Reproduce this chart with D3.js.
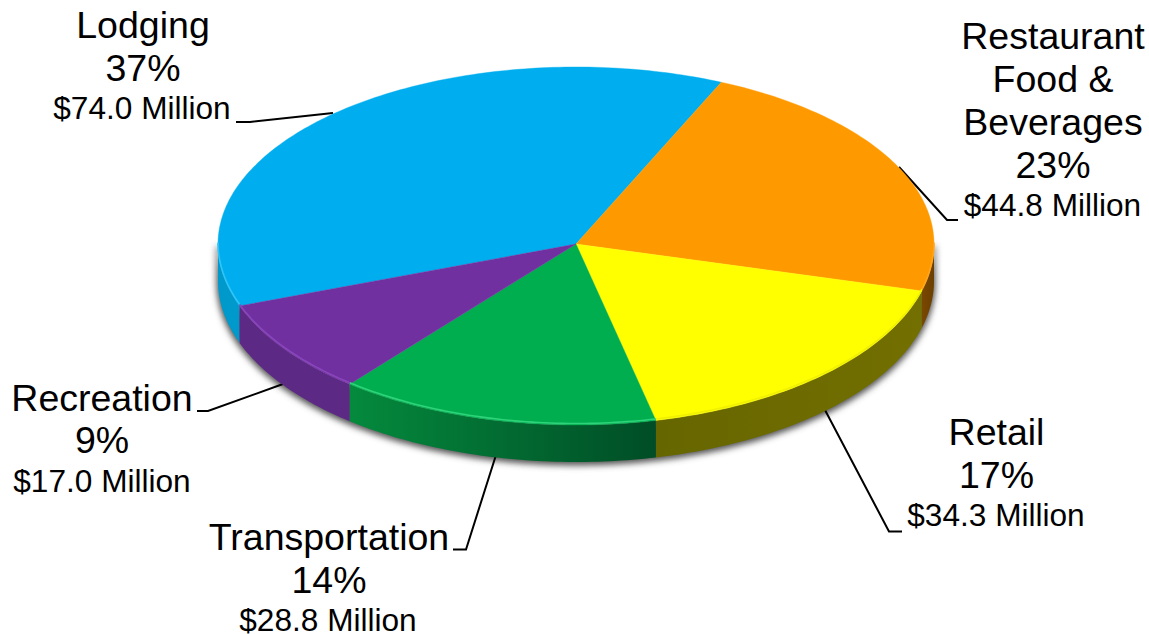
<!DOCTYPE html>
<html>
<head>
<meta charset="utf-8">
<script src="https://cdn.jsdelivr.net/npm/d3@7"></script>
<style>
  html, body { margin: 0; background: #fff; }
  text { font-family: "Liberation Sans", Arial, sans-serif; fill: #000; text-anchor: middle; }
</style>
</head>
<body>
<svg id="chart" width="1149" height="634"></svg>
<script>
const categories = ["Lodging", "Restaurant Food & Beverages", "Retail", "Transportation", "Recreation"];
const millions = [74.0, 44.8, 34.3, 28.8, 17.0];
const percents = ["37%", "23%", "17%", "14%", "9%"];
const moneyLabels = ["$74.0 Million", "$44.8 Million", "$34.3 Million", "$28.8 Million", "$17.0 Million"];
const topColors = ["#00aeef", "#ff9900", "#ffff00", "#00ae4f", "#7030a0"];
const rimColors = ["#33c4f5", "#ffa51f", "#f0f000", "#2fd47a", "#8a45bd"];
const wallStart = ["#0099cc", "#6b3f00", "#736f00", "#048a3d", "#5c2a84"];
const wallEnd = ["#0099cc", "#7a4800", "#666600", "#004d26", "#5c2a84"];

// the picture has perspective, so the front half of the ellipse is a bit deeper
const cx = 576, cy = 244, rx = 358, ryBack = 177, ryFront = 181, depth = 37;

// label blocks: big lines with their baseline, then the small money line
const labelBlocks = [
    { x: 143, big: [["Lodging", 38], ["37%", 81]], moneyX: 142, moneyY: 118.5 },
    { x: 1053, big: [["Restaurant", 49], ["Food &", 92], ["Beverages", 135], ["23%", 178]], moneyX: 1052.5, moneyY: 216 },
    { x: 996.5, big: [["Retail", 445], ["17%", 488]], moneyX: 996, moneyY: 526 },
    { x: 329, big: [["Transportation", 550], ["14%", 593]], moneyX: 328, moneyY: 631 },
    { x: 102, big: [["Recreation", 410.5], ["9%", 453]], moneyX: 102, moneyY: 492 }
];
const leaders = [
    [[236, 122], [250, 122], [333, 113]],
    [[899, 167], [947, 220], [958, 220]],
    [[825, 410], [889, 531.5], [902, 531.5]],
    [[496, 455], [466, 549.5], [453, 549.5]],
    [[283, 384], [208, 411], [197, 411]]
];

const svg = d3.select("#chart");
const defs = svg.append("defs");

defs.append("filter").attr("id", "soft")
    .attr("x", "-5%").attr("y", "-5%").attr("width", "110%").attr("height", "110%")
    .append("feGaussianBlur").attr("stdDeviation", 3);
defs.append("filter").attr("id", "rimBlur")
    .append("feGaussianBlur").attr("stdDeviation", 0.7);

const pie = d3.pie()
    .sort(null)
    .startAngle(250 * Math.PI / 180)
    .endAngle((250 + 360) * Math.PI / 180);
const slices = pie(millions);

const px = a => cx + rx * Math.sin(a);
const py = a => {
    const c = Math.cos(a);
    return cy - (c > 0 ? ryBack : ryFront) * c;
};

// only the front half of the rim has a visible wall
const half = Math.PI / 2;
function frontSpans(d) {
    const spans = [];
    [0, 2 * Math.PI].forEach(shift => {
        const a0 = Math.max(d.startAngle, half + shift);
        const a1 = Math.min(d.endAngle, 3 * half + shift);
        if (a1 > a0) spans.push([a0, a1]);
    });
    return spans;
}
function rimAngles(a0, a1) {
    const n = Math.ceil((a1 - a0) * 60);
    return d3.range(n + 1).map(i => a0 + (a1 - a0) * i / n);
}
const line = d3.line();
function wallPath(a0, a1) {
    const angles = rimAngles(a0, a1);
    const upper = angles.map(a => [px(a), py(a)]);
    const lower = angles.slice().reverse().map(a => [px(a), py(a) + depth]);
    return line(upper.concat(lower)) + "Z";
}
function facePath(d) {
    const rim = rimAngles(d.startAngle, d.endAngle).map(a => [px(a), py(a)]);
    return line([[cx, cy]].concat(rim)) + "Z";
}

// soft shadow round the wall
svg.append("path")
    .attr("d", wallPath(half, 3 * half))
    .attr("transform", "translate(0,2)")
    .attr("fill", "#555")
    .attr("stroke", "#555")
    .attr("stroke-width", 3)
    .attr("filter", "url(#soft)");

// leader lines go under the pie
svg.append("g").selectAll("path")
    .data(leaders)
    .join("path")
    .attr("d", d => line(d))
    .attr("fill", "none")
    .attr("stroke", "#000")
    .attr("stroke-width", 2);

// walls
slices.forEach((d, i) => {
    frontSpans(d).forEach((s, j) => {
        const id = `wall${i}_${j}`;
        const grad = defs.append("linearGradient").attr("id", id)
            .attr("gradientUnits", "userSpaceOnUse")
            .attr("x1", px(s[0])).attr("x2", px(s[1]))
            .attr("y1", 0).attr("y2", 0);
        grad.append("stop").attr("offset", 0).attr("stop-color", i === 3 ? wallEnd[i] : wallStart[i]);
        grad.append("stop").attr("offset", 1).attr("stop-color", i === 3 ? wallStart[i] : wallEnd[i]);
        svg.append("path")
            .attr("d", wallPath(s[0], s[1]))
            .attr("fill", `url(#${id})`);
    });
});

// top face
svg.append("g").selectAll("path")
    .data(slices)
    .join("path")
    .attr("d", facePath)
    .attr("fill", (d, i) => topColors[i])
    .attr("stroke", (d, i) => topColors[i])
    .attr("stroke-width", 0.4);

// bevel highlight along the front of the rim
slices.forEach((d, i) => {
    frontSpans(d).forEach(s => {
        svg.append("path")
            .attr("d", line(rimAngles(s[0], s[1]).map(a => [px(a), py(a) - 1.5])))
            .attr("fill", "none")
            .attr("stroke", rimColors[i])
            .attr("stroke-width", 1.6)
            .attr("filter", "url(#rimBlur)");
    });
});

// labels
const labels = svg.append("g").selectAll("g")
    .data(labelBlocks)
    .join("g");
labels.each(function(d, i) {
    const g = d3.select(this);
    d.big.forEach(b => {
        g.append("text").attr("x", d.x).attr("y", b[1])
            .attr("font-size", 37.5).text(b[0]);
    });
    g.append("text").attr("x", d.moneyX).attr("y", d.moneyY)
        .attr("font-size", 31.6).text(moneyLabels[i]);
});
</script>
</body>
</html>
